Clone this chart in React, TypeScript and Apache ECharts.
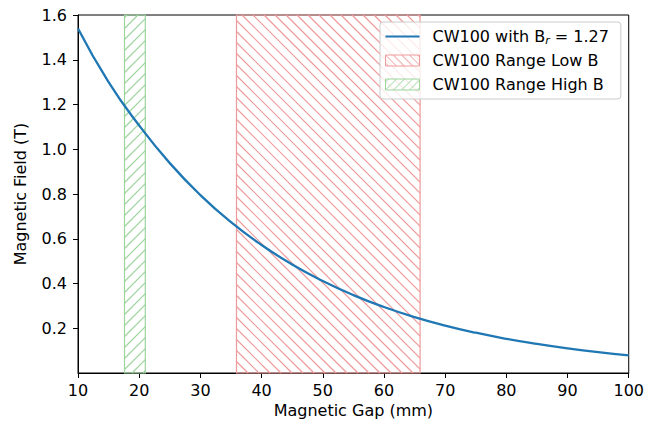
import React, { useEffect, useRef } from "react";
import * as echarts from "echarts";

// ---- data ----
const gapMm = [10, 15, 20, 25, 30, 35, 40, 45, 50, 55, 60, 65, 70, 75, 80, 85, 90, 95, 100];
const fieldT = [1.54, 1.3, 1.106, 0.938, 0.795, 0.674, 0.572, 0.485, 0.411, 0.348, 0.295, 0.25, 0.212, 0.18, 0.153, 0.13, 0.11, 0.093, 0.079];
const lowBRange = [35.9, 65.9];
const highBRange = [17.6, 21.0];
const xTickValues = [10, 20, 30, 40, 50, 60, 70, 80, 90, 100];
const yTickValues = [0.2, 0.4, 0.6, 0.8, 1.0, 1.2, 1.4, 1.6];
const seriesNames = ["CW100 with Br = 1.27", "CW100 Range Low B", "CW100 Range High B"];
const xAxisTitle = "Magnetic Gap (mm)";
const yAxisTitle = "Magnetic Field (T)";

const BLUE = "#1f77b4";
const RED = "#ef9a9a";
const GREEN = "#9dd59d";
const FONT = "DejaVu Sans";
const FS = 16;

function hatchSegments(x0: number, x1: number, top: number, bottom: number, spacing: number, dir: number) {
  const h = bottom - top;
  const segs: number[][] = [];
  const start = Math.floor((x0 - h) / spacing) * spacing;
  for (let c = start; c < x1; c += spacing) {
    const t0 = Math.max(0, x0 - c);
    const t1 = Math.min(h, x1 - c);
    if (t1 <= t0) continue;
    if (dir > 0) segs.push([c + t0, top + t0, c + t1, top + t1]);
    else segs.push([c + t0, bottom - t0, c + t1, bottom - t1]);
  }
  return segs;
}

function hatchRender(color: string, dir: number, spacing: number) {
  return (params: any, api: any) => {
    const cs = params.coordSys;
    const x0 = api.coord([api.value(0), 0])[0];
    const x1 = api.coord([api.value(1), 0])[0];
    const top = cs.y;
    const bottom = cs.y + cs.height;
    const children: any[] = [];
    hatchSegments(x0, x1, top, bottom, spacing, dir).forEach((s) => {
      children.push({
        type: "line",
        shape: { x1: s[0], y1: s[1], x2: s[2], y2: s[3] },
        style: { stroke: color, lineWidth: 1.2, fill: null },
      });
    });
    children.push({
      type: "rect",
      shape: { x: x0, y: top, width: x1 - x0, height: bottom - top },
      style: { fill: "none", stroke: color, lineWidth: 1.2 },
    });
    return { type: "group", children };
  };
}

function iconPath(w: number, h: number, spacing: number, dir: number) {
  let d = `M0 0L${w} 0L${w} ${h}L0 ${h}Z`;
  hatchSegments(0, w, 0, h, spacing, dir).forEach((s) => {
    d += `M${s[0].toFixed(2)} ${s[1].toFixed(2)}L${s[2].toFixed(2)} ${s[3].toFixed(2)}`;
  });
  return "path://" + d;
}

export default function App() {
  const ref = useRef<HTMLDivElement>(null);
  useEffect(() => {
    if (!ref.current) return;
    const chart = echarts.init(ref.current, undefined, { renderer: "svg" });
    const lineData = gapMm.map((g, i) => [g, fieldT[i]]);
    chart.setOption({
      animation: false,
      backgroundColor: "#ffffff",
      textStyle: { fontFamily: FONT },
      grid: { left: 78, right: 17, top: 15, bottom: 52, show: true, borderColor: "#000", borderWidth: 1 },
      xAxis: {
        type: "value",
        min: 10,
        max: 100,
        interval: 10,
        name: xAxisTitle,
        nameLocation: "middle",
        nameGap: 29,
        nameTextStyle: { fontFamily: FONT, fontSize: FS, color: "#000" },
        axisLine: { show: true, lineStyle: { color: "#000", width: 1 } },
        axisTick: { show: true, inside: false, length: 5, lineStyle: { color: "#000" }, customValues: xTickValues },
        axisLabel: { fontFamily: FONT, fontSize: FS, color: "#000", margin: 9, customValues: xTickValues, formatter: (v: number) => String(v) },
        splitLine: { show: false },
      },
      yAxis: {
        type: "value",
        min: 0,
        max: 1.6,
        interval: 0.2,
        name: yAxisTitle,
        nameLocation: "middle",
        nameGap: 50,
        nameTextStyle: { fontFamily: FONT, fontSize: FS, color: "#000" },
        axisLine: { show: true, lineStyle: { color: "#000", width: 1 } },
        axisTick: { show: true, inside: false, length: 5, lineStyle: { color: "#000" }, customValues: yTickValues },
        axisLabel: { fontFamily: FONT, fontSize: FS, color: "#000", margin: 11, customValues: yTickValues, formatter: (v: number) => v.toFixed(1) },
        splitLine: { show: false },
      },
      legend: {
        orient: "vertical",
        left: 380,
        top: 22,
        padding: [5, 12, 5, 5],
        itemGap: 5,
        itemWidth: 34,
        itemHeight: 11,
        backgroundColor: "rgba(255,255,255,0.8)",
        borderColor: "#cccccc",
        borderWidth: 1,
        borderRadius: 3,
        textStyle: {
          fontFamily: FONT,
          fontSize: FS,
          color: "#000",
          lineHeight: 19,
          padding: [0, 0, 0, 8],
          rich: {
            a: { fontFamily: FONT, fontSize: FS, color: "#000", lineHeight: 19 },
            sub: { fontFamily: FONT, fontSize: 11, fontStyle: "italic", color: "#000", padding: [8, 0, 0, 0], lineHeight: 19 },
          },
        },
        formatter: (name: string) => {
          if (name === seriesNames[0]) return "{a|CW100 with B}{sub|r}{a| = 1.27}";
          return name;
        },
        data: [
          {
            name: seriesNames[0],
            icon: "path://M0 0L34 0L34 2.2L0 2.2Z",
            itemStyle: { color: BLUE, borderWidth: 0 },
          },
          {
            name: seriesNames[1],
            icon: iconPath(34, 11, 8, 1),
            itemStyle: { color: "rgba(0,0,0,0)", borderColor: RED, borderWidth: 1 },
          },
          {
            name: seriesNames[2],
            icon: iconPath(34, 11, 8, -1),
            itemStyle: { color: "rgba(0,0,0,0)", borderColor: GREEN, borderWidth: 1 },
          },
        ],
      },
      series: [
        {
          name: seriesNames[1],
          type: "custom",
          renderItem: hatchRender(RED, 1, 11),
          data: [lowBRange],
          encode: { x: [0, 1] },
          itemStyle: { color: RED },
          z: 1,
        },
        {
          name: seriesNames[2],
          type: "custom",
          renderItem: hatchRender(GREEN, -1, 11),
          data: [highBRange],
          encode: { x: [0, 1] },
          itemStyle: { color: GREEN },
          z: 1,
        },
        {
          name: seriesNames[0],
          type: "line",
          data: lineData,
          smooth: true,
          symbol: "none",
          lineStyle: { color: BLUE, width: 2.3 },
          itemStyle: { color: BLUE },
          z: 3,
        },
      ],
    });
    return () => chart.dispose();
  }, []);
  return <div ref={ref} style={{ position: "absolute", left: 0, top: 0, width: 647, height: 425 }} />;
}
